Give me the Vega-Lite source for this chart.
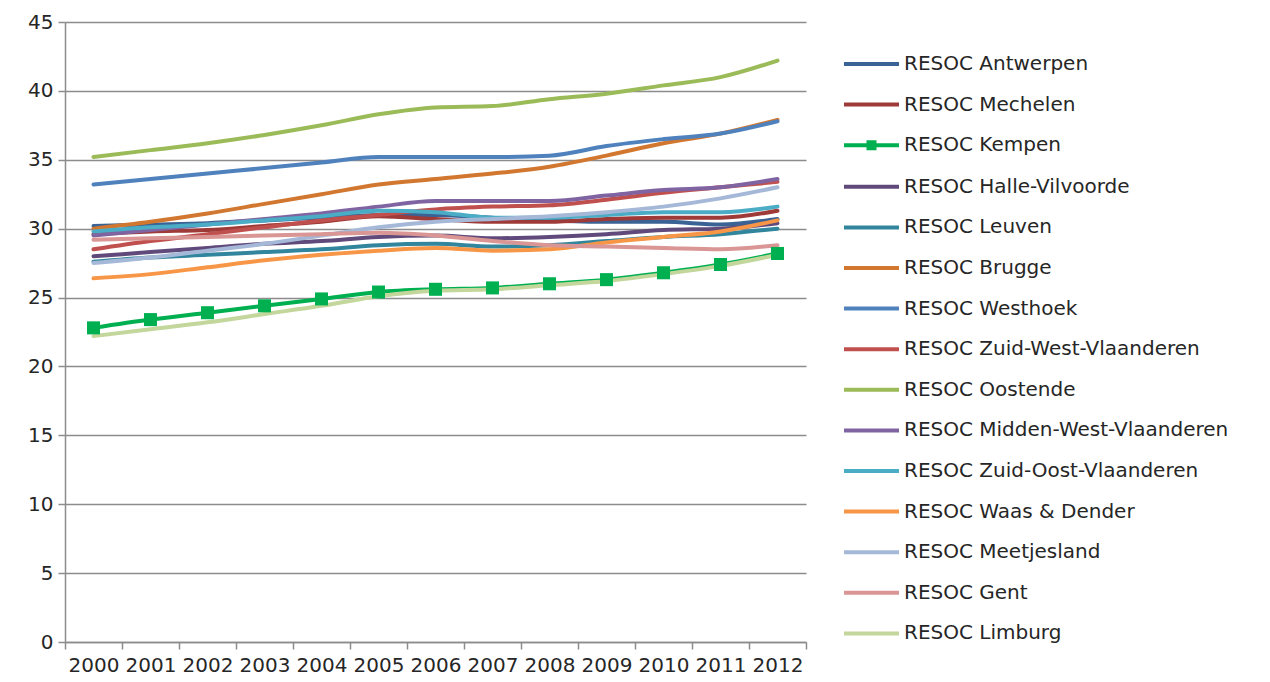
{
  "$schema": "https://vega.github.io/schema/vega-lite/v6.json",
  "width": 741,
  "height": 620,
  "autosize": {"type": "none"},
  "padding": {"left": 65, "top": 22, "right": 464, "bottom": 40},
  "background": "white",
  "config": {"view": {"stroke": null}, "font": "DejaVu Sans"},
  "datasets": {
    "src": [
      {"region": "RESOC Antwerpen", "year": "2000", "value": 30.2}, {"region": "RESOC Antwerpen", "year": "2001", "value": 30.3}, {"region": "RESOC Antwerpen", "year": "2002", "value": 30.4}, {"region": "RESOC Antwerpen", "year": "2003", "value": 30.6}, {"region": "RESOC Antwerpen", "year": "2004", "value": 30.8}, {"region": "RESOC Antwerpen", "year": "2005", "value": 31.0}, {"region": "RESOC Antwerpen", "year": "2006", "value": 31.0}, {"region": "RESOC Antwerpen", "year": "2007", "value": 30.8}, {"region": "RESOC Antwerpen", "year": "2008", "value": 30.6}, {"region": "RESOC Antwerpen", "year": "2009", "value": 30.5}, {"region": "RESOC Antwerpen", "year": "2010", "value": 30.5}, {"region": "RESOC Antwerpen", "year": "2011", "value": 30.3}, {"region": "RESOC Antwerpen", "year": "2012", "value": 30.7},
      {"region": "RESOC Mechelen", "year": "2000", "value": 29.6}, {"region": "RESOC Mechelen", "year": "2001", "value": 29.8}, {"region": "RESOC Mechelen", "year": "2002", "value": 29.9}, {"region": "RESOC Mechelen", "year": "2003", "value": 30.2}, {"region": "RESOC Mechelen", "year": "2004", "value": 30.5}, {"region": "RESOC Mechelen", "year": "2005", "value": 30.9}, {"region": "RESOC Mechelen", "year": "2006", "value": 30.7}, {"region": "RESOC Mechelen", "year": "2007", "value": 30.5}, {"region": "RESOC Mechelen", "year": "2008", "value": 30.5}, {"region": "RESOC Mechelen", "year": "2009", "value": 30.7}, {"region": "RESOC Mechelen", "year": "2010", "value": 30.8}, {"region": "RESOC Mechelen", "year": "2011", "value": 30.8}, {"region": "RESOC Mechelen", "year": "2012", "value": 31.3},
      {"region": "RESOC Kempen", "year": "2000", "value": 22.8}, {"region": "RESOC Kempen", "year": "2001", "value": 23.4}, {"region": "RESOC Kempen", "year": "2002", "value": 23.9}, {"region": "RESOC Kempen", "year": "2003", "value": 24.4}, {"region": "RESOC Kempen", "year": "2004", "value": 24.9}, {"region": "RESOC Kempen", "year": "2005", "value": 25.4}, {"region": "RESOC Kempen", "year": "2006", "value": 25.6}, {"region": "RESOC Kempen", "year": "2007", "value": 25.7}, {"region": "RESOC Kempen", "year": "2008", "value": 26.0}, {"region": "RESOC Kempen", "year": "2009", "value": 26.3}, {"region": "RESOC Kempen", "year": "2010", "value": 26.8}, {"region": "RESOC Kempen", "year": "2011", "value": 27.4}, {"region": "RESOC Kempen", "year": "2012", "value": 28.2},
      {"region": "RESOC Halle-Vilvoorde", "year": "2000", "value": 28.0}, {"region": "RESOC Halle-Vilvoorde", "year": "2001", "value": 28.3}, {"region": "RESOC Halle-Vilvoorde", "year": "2002", "value": 28.6}, {"region": "RESOC Halle-Vilvoorde", "year": "2003", "value": 28.9}, {"region": "RESOC Halle-Vilvoorde", "year": "2004", "value": 29.1}, {"region": "RESOC Halle-Vilvoorde", "year": "2005", "value": 29.4}, {"region": "RESOC Halle-Vilvoorde", "year": "2006", "value": 29.5}, {"region": "RESOC Halle-Vilvoorde", "year": "2007", "value": 29.3}, {"region": "RESOC Halle-Vilvoorde", "year": "2008", "value": 29.4}, {"region": "RESOC Halle-Vilvoorde", "year": "2009", "value": 29.6}, {"region": "RESOC Halle-Vilvoorde", "year": "2010", "value": 29.9}, {"region": "RESOC Halle-Vilvoorde", "year": "2011", "value": 30.0}, {"region": "RESOC Halle-Vilvoorde", "year": "2012", "value": 30.4},
      {"region": "RESOC Leuven", "year": "2000", "value": 27.6}, {"region": "RESOC Leuven", "year": "2001", "value": 27.9}, {"region": "RESOC Leuven", "year": "2002", "value": 28.1}, {"region": "RESOC Leuven", "year": "2003", "value": 28.3}, {"region": "RESOC Leuven", "year": "2004", "value": 28.5}, {"region": "RESOC Leuven", "year": "2005", "value": 28.8}, {"region": "RESOC Leuven", "year": "2006", "value": 28.9}, {"region": "RESOC Leuven", "year": "2007", "value": 28.7}, {"region": "RESOC Leuven", "year": "2008", "value": 28.8}, {"region": "RESOC Leuven", "year": "2009", "value": 29.1}, {"region": "RESOC Leuven", "year": "2010", "value": 29.4}, {"region": "RESOC Leuven", "year": "2011", "value": 29.6}, {"region": "RESOC Leuven", "year": "2012", "value": 30.0},
      {"region": "RESOC Brugge", "year": "2000", "value": 30.0}, {"region": "RESOC Brugge", "year": "2001", "value": 30.5}, {"region": "RESOC Brugge", "year": "2002", "value": 31.1}, {"region": "RESOC Brugge", "year": "2003", "value": 31.8}, {"region": "RESOC Brugge", "year": "2004", "value": 32.5}, {"region": "RESOC Brugge", "year": "2005", "value": 33.2}, {"region": "RESOC Brugge", "year": "2006", "value": 33.6}, {"region": "RESOC Brugge", "year": "2007", "value": 34.0}, {"region": "RESOC Brugge", "year": "2008", "value": 34.5}, {"region": "RESOC Brugge", "year": "2009", "value": 35.3}, {"region": "RESOC Brugge", "year": "2010", "value": 36.2}, {"region": "RESOC Brugge", "year": "2011", "value": 36.9}, {"region": "RESOC Brugge", "year": "2012", "value": 37.9},
      {"region": "RESOC Westhoek", "year": "2000", "value": 33.2}, {"region": "RESOC Westhoek", "year": "2001", "value": 33.6}, {"region": "RESOC Westhoek", "year": "2002", "value": 34.0}, {"region": "RESOC Westhoek", "year": "2003", "value": 34.4}, {"region": "RESOC Westhoek", "year": "2004", "value": 34.8}, {"region": "RESOC Westhoek", "year": "2005", "value": 35.2}, {"region": "RESOC Westhoek", "year": "2006", "value": 35.2}, {"region": "RESOC Westhoek", "year": "2007", "value": 35.2}, {"region": "RESOC Westhoek", "year": "2008", "value": 35.3}, {"region": "RESOC Westhoek", "year": "2009", "value": 36.0}, {"region": "RESOC Westhoek", "year": "2010", "value": 36.5}, {"region": "RESOC Westhoek", "year": "2011", "value": 36.9}, {"region": "RESOC Westhoek", "year": "2012", "value": 37.8},
      {"region": "RESOC Zuid-West-Vlaanderen", "year": "2000", "value": 28.5}, {"region": "RESOC Zuid-West-Vlaanderen", "year": "2001", "value": 29.1}, {"region": "RESOC Zuid-West-Vlaanderen", "year": "2002", "value": 29.6}, {"region": "RESOC Zuid-West-Vlaanderen", "year": "2003", "value": 30.1}, {"region": "RESOC Zuid-West-Vlaanderen", "year": "2004", "value": 30.6}, {"region": "RESOC Zuid-West-Vlaanderen", "year": "2005", "value": 31.0}, {"region": "RESOC Zuid-West-Vlaanderen", "year": "2006", "value": 31.4}, {"region": "RESOC Zuid-West-Vlaanderen", "year": "2007", "value": 31.6}, {"region": "RESOC Zuid-West-Vlaanderen", "year": "2008", "value": 31.7}, {"region": "RESOC Zuid-West-Vlaanderen", "year": "2009", "value": 32.1}, {"region": "RESOC Zuid-West-Vlaanderen", "year": "2010", "value": 32.6}, {"region": "RESOC Zuid-West-Vlaanderen", "year": "2011", "value": 33.0}, {"region": "RESOC Zuid-West-Vlaanderen", "year": "2012", "value": 33.4},
      {"region": "RESOC Oostende", "year": "2000", "value": 35.2}, {"region": "RESOC Oostende", "year": "2001", "value": 35.7}, {"region": "RESOC Oostende", "year": "2002", "value": 36.2}, {"region": "RESOC Oostende", "year": "2003", "value": 36.8}, {"region": "RESOC Oostende", "year": "2004", "value": 37.5}, {"region": "RESOC Oostende", "year": "2005", "value": 38.3}, {"region": "RESOC Oostende", "year": "2006", "value": 38.8}, {"region": "RESOC Oostende", "year": "2007", "value": 38.9}, {"region": "RESOC Oostende", "year": "2008", "value": 39.4}, {"region": "RESOC Oostende", "year": "2009", "value": 39.8}, {"region": "RESOC Oostende", "year": "2010", "value": 40.4}, {"region": "RESOC Oostende", "year": "2011", "value": 41.0}, {"region": "RESOC Oostende", "year": "2012", "value": 42.2},
      {"region": "RESOC Midden-West-Vlaanderen", "year": "2000", "value": 29.5}, {"region": "RESOC Midden-West-Vlaanderen", "year": "2001", "value": 29.9}, {"region": "RESOC Midden-West-Vlaanderen", "year": "2002", "value": 30.3}, {"region": "RESOC Midden-West-Vlaanderen", "year": "2003", "value": 30.7}, {"region": "RESOC Midden-West-Vlaanderen", "year": "2004", "value": 31.1}, {"region": "RESOC Midden-West-Vlaanderen", "year": "2005", "value": 31.6}, {"region": "RESOC Midden-West-Vlaanderen", "year": "2006", "value": 32.0}, {"region": "RESOC Midden-West-Vlaanderen", "year": "2007", "value": 32.0}, {"region": "RESOC Midden-West-Vlaanderen", "year": "2008", "value": 32.0}, {"region": "RESOC Midden-West-Vlaanderen", "year": "2009", "value": 32.4}, {"region": "RESOC Midden-West-Vlaanderen", "year": "2010", "value": 32.8}, {"region": "RESOC Midden-West-Vlaanderen", "year": "2011", "value": 33.0}, {"region": "RESOC Midden-West-Vlaanderen", "year": "2012", "value": 33.6},
      {"region": "RESOC Zuid-Oost-Vlaanderen", "year": "2000", "value": 29.8}, {"region": "RESOC Zuid-Oost-Vlaanderen", "year": "2001", "value": 30.1}, {"region": "RESOC Zuid-Oost-Vlaanderen", "year": "2002", "value": 30.3}, {"region": "RESOC Zuid-Oost-Vlaanderen", "year": "2003", "value": 30.6}, {"region": "RESOC Zuid-Oost-Vlaanderen", "year": "2004", "value": 30.9}, {"region": "RESOC Zuid-Oost-Vlaanderen", "year": "2005", "value": 31.3}, {"region": "RESOC Zuid-Oost-Vlaanderen", "year": "2006", "value": 31.2}, {"region": "RESOC Zuid-Oost-Vlaanderen", "year": "2007", "value": 30.8}, {"region": "RESOC Zuid-Oost-Vlaanderen", "year": "2008", "value": 30.8}, {"region": "RESOC Zuid-Oost-Vlaanderen", "year": "2009", "value": 31.0}, {"region": "RESOC Zuid-Oost-Vlaanderen", "year": "2010", "value": 31.2}, {"region": "RESOC Zuid-Oost-Vlaanderen", "year": "2011", "value": 31.2}, {"region": "RESOC Zuid-Oost-Vlaanderen", "year": "2012", "value": 31.6},
      {"region": "RESOC Waas & Dender", "year": "2000", "value": 26.4}, {"region": "RESOC Waas & Dender", "year": "2001", "value": 26.7}, {"region": "RESOC Waas & Dender", "year": "2002", "value": 27.2}, {"region": "RESOC Waas & Dender", "year": "2003", "value": 27.7}, {"region": "RESOC Waas & Dender", "year": "2004", "value": 28.1}, {"region": "RESOC Waas & Dender", "year": "2005", "value": 28.4}, {"region": "RESOC Waas & Dender", "year": "2006", "value": 28.6}, {"region": "RESOC Waas & Dender", "year": "2007", "value": 28.4}, {"region": "RESOC Waas & Dender", "year": "2008", "value": 28.5}, {"region": "RESOC Waas & Dender", "year": "2009", "value": 29.0}, {"region": "RESOC Waas & Dender", "year": "2010", "value": 29.4}, {"region": "RESOC Waas & Dender", "year": "2011", "value": 29.8}, {"region": "RESOC Waas & Dender", "year": "2012", "value": 30.6},
      {"region": "RESOC Meetjesland", "year": "2000", "value": 27.5}, {"region": "RESOC Meetjesland", "year": "2001", "value": 27.9}, {"region": "RESOC Meetjesland", "year": "2002", "value": 28.4}, {"region": "RESOC Meetjesland", "year": "2003", "value": 28.9}, {"region": "RESOC Meetjesland", "year": "2004", "value": 29.5}, {"region": "RESOC Meetjesland", "year": "2005", "value": 30.1}, {"region": "RESOC Meetjesland", "year": "2006", "value": 30.5}, {"region": "RESOC Meetjesland", "year": "2007", "value": 30.7}, {"region": "RESOC Meetjesland", "year": "2008", "value": 30.9}, {"region": "RESOC Meetjesland", "year": "2009", "value": 31.2}, {"region": "RESOC Meetjesland", "year": "2010", "value": 31.6}, {"region": "RESOC Meetjesland", "year": "2011", "value": 32.2}, {"region": "RESOC Meetjesland", "year": "2012", "value": 33.0},
      {"region": "RESOC Gent", "year": "2000", "value": 29.2}, {"region": "RESOC Gent", "year": "2001", "value": 29.3}, {"region": "RESOC Gent", "year": "2002", "value": 29.4}, {"region": "RESOC Gent", "year": "2003", "value": 29.5}, {"region": "RESOC Gent", "year": "2004", "value": 29.6}, {"region": "RESOC Gent", "year": "2005", "value": 29.7}, {"region": "RESOC Gent", "year": "2006", "value": 29.5}, {"region": "RESOC Gent", "year": "2007", "value": 29.1}, {"region": "RESOC Gent", "year": "2008", "value": 28.8}, {"region": "RESOC Gent", "year": "2009", "value": 28.7}, {"region": "RESOC Gent", "year": "2010", "value": 28.6}, {"region": "RESOC Gent", "year": "2011", "value": 28.5}, {"region": "RESOC Gent", "year": "2012", "value": 28.8},
      {"region": "RESOC Limburg", "year": "2000", "value": 22.2}, {"region": "RESOC Limburg", "year": "2001", "value": 22.7}, {"region": "RESOC Limburg", "year": "2002", "value": 23.2}, {"region": "RESOC Limburg", "year": "2003", "value": 23.8}, {"region": "RESOC Limburg", "year": "2004", "value": 24.4}, {"region": "RESOC Limburg", "year": "2005", "value": 25.1}, {"region": "RESOC Limburg", "year": "2006", "value": 25.5}, {"region": "RESOC Limburg", "year": "2007", "value": 25.6}, {"region": "RESOC Limburg", "year": "2008", "value": 25.9}, {"region": "RESOC Limburg", "year": "2009", "value": 26.2}, {"region": "RESOC Limburg", "year": "2010", "value": 26.7}, {"region": "RESOC Limburg", "year": "2011", "value": 27.3}, {"region": "RESOC Limburg", "year": "2012", "value": 28.1}
    ]
  },
  "data": {"name": "src"},
  "encoding": {
    "x": {
      "field": "year", "type": "ordinal", "bandPosition": 0.5,
      "scale": {"type": "band", "paddingInner": 0, "paddingOuter": 0},
      "axis": {"title": null, "tickBand": "extent", "grid": false, "labelAngle": 0, "labelFontSize": 20, "labelColor": "#262626", "domainColor": "#8c8c8c", "domainWidth": 1.5, "tickColor": "#8c8c8c", "tickWidth": 1.5, "tickSize": 7, "labelPadding": 6}
    },
    "y": {
      "field": "value", "type": "quantitative",
      "scale": {"domain": [0, 45], "nice": false},
      "axis": {"title": null, "values": [0, 5, 10, 15, 20, 25, 30, 35, 40, 45], "grid": true, "gridColor": "#8c8c8c", "gridWidth": 1.5, "domainColor": "#8c8c8c", "domainWidth": 1.5, "tickColor": "#8c8c8c", "tickWidth": 1.5, "tickSize": 7, "labelPadding": 5, "labelFontSize": 20, "labelColor": "#262626"}
    },
    "color": {
      "field": "region", "type": "nominal",
      "scale": {
        "domain": ["RESOC Antwerpen", "RESOC Mechelen", "RESOC Kempen", "RESOC Halle-Vilvoorde", "RESOC Leuven", "RESOC Brugge", "RESOC Westhoek", "RESOC Zuid-West-Vlaanderen", "RESOC Oostende", "RESOC Midden-West-Vlaanderen", "RESOC Zuid-Oost-Vlaanderen", "RESOC Waas & Dender", "RESOC Meetjesland", "RESOC Gent", "RESOC Limburg"],
        "range": ["#3A6294", "#9E3B39", "#00B050", "#604A7B", "#31859C", "#D2772F", "#4F81BD", "#C0504D", "#9BBB59", "#8064A2", "#4BACC6", "#F79646", "#A5B8D8", "#D99694", "#C3D69B"]
      },
      "legend": {
        "orient": "none", "legendX": 794.5, "legendY": 30, "title": null, "padding": 0,
        "symbolType": "M-2.75,0H2.75", "symbolSize": 400, "symbolStrokeWidth": 4,
        "labelFontSize": 20, "labelColor": "#262626", "labelOffset": 20.5, "rowPadding": 18.6, "labelLimit": 400,
        "encode": {
          "symbols": {
            "update": {
              "shape": {"signal": "datum.value === 'RESOC Kempen' ? 'M-2.75,0H2.75M-0.3,-0.3H0.3V0.3H-0.3Z' : 'M-2.75,0H2.75'"},
              "fill": {"signal": "datum.value === 'RESOC Kempen' ? '#00B050' : 'transparent'"}
            }
          }
        }
      }
    }
  },
  "layer": [
    {"mark": {"type": "line", "strokeWidth": 4, "interpolate": "monotone", "strokeCap": "round"}},
    {
      "transform": [{"filter": "datum.region === 'RESOC Kempen'"}],
      "mark": {"type": "point", "shape": "square", "filled": true, "size": 170, "opacity": 1},
      "encoding": {"color": {"value": "#00B050"}}
    }
  ]
}
